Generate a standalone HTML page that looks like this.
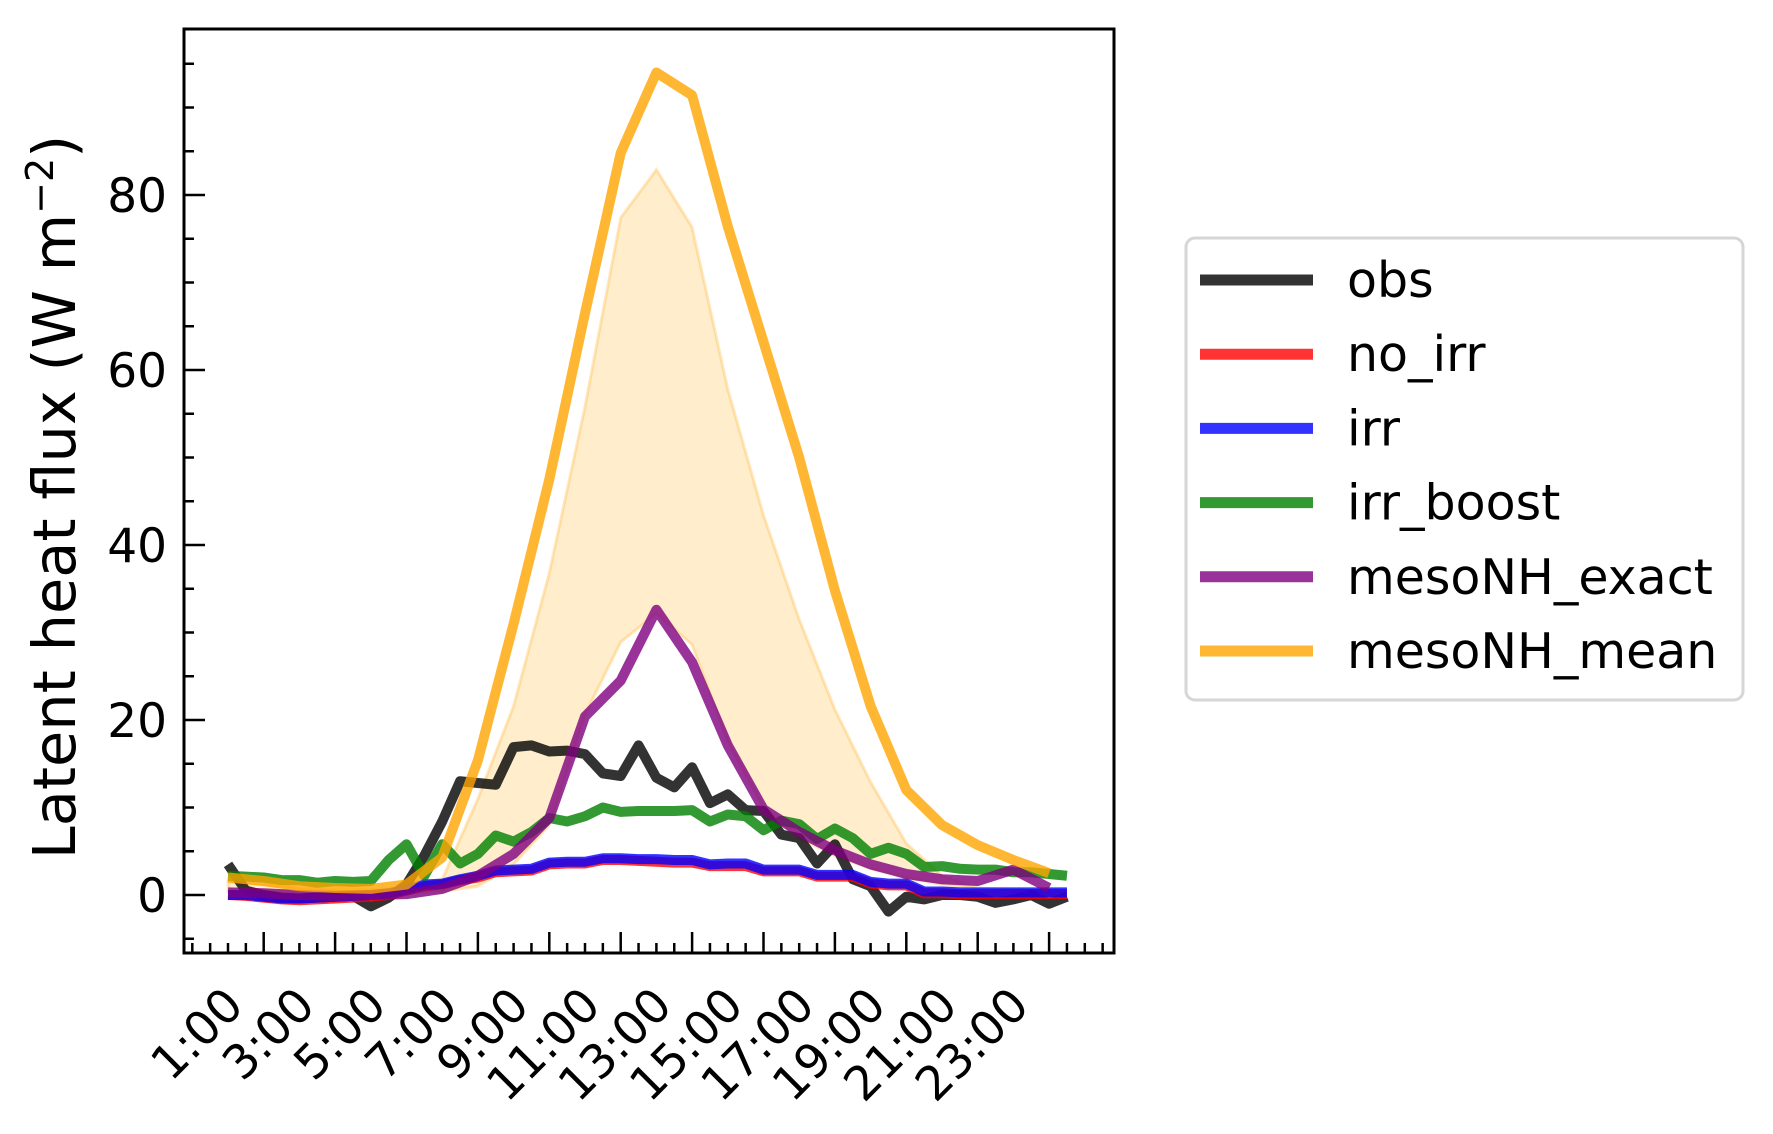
<!DOCTYPE html>
<html><head><meta charset="utf-8"><title>Latent heat flux</title>
<style>html,body{margin:0;padding:0;background:#fff;width:1773px;height:1134px;overflow:hidden}svg text{font-family:"DejaVu Sans","Liberation Sans",sans-serif;fill:#000}</style>
</head><body>
<svg id="chart" width="1773" height="1134" viewBox="0 0 1773 1134" xmlns="http://www.w3.org/2000/svg">
<g id="plot"></g>
<text transform="translate(75,497) rotate(-90)" text-anchor="middle" font-size="59">Latent heat flux (W m<tspan font-size="38" dy="-22">−2</tspan><tspan dy="22">)</tspan></text>
<g>
<rect x="1186" y="238" width="557" height="462" rx="9" fill="#fff" stroke="#d6d6d6" stroke-width="3"/>
<g id="legend-items"></g>
</g>
</svg>
<script>
const hoursHalf = [0,0.5,1,1.5,2,2.5,3,3.5,4,4.5,5,5.5,6,6.5,7,7.5,8,8.5,9,9.5,10,10.5,11,11.5,12,12.5,13,13.5,14,14.5,15,15.5,16,16.5,17,17.5,18,18.5,19,19.5,20,20.5,21,21.5,22,22.5,23,23.5];
const hoursHourly = [0,1,2,3,4,5,6,7,8,9,10,11,12,13,14,15,16,17,18,19,20,21,22,23];
const obs = [3.5,0.5,0,-0.3,-0.4,-0.3,-0.2,-0.1,-1.3,-0.3,1.2,4.5,8.4,13.0,12.8,12.6,16.9,17.1,16.4,16.5,16.1,13.9,13.6,17.1,13.4,12.3,14.6,10.5,11.5,9.7,9.6,6.9,6.5,3.6,5.8,1.8,1.0,-1.9,-0.2,-0.5,0,0,-0.2,-0.9,-0.5,0,-1.0,-0.2];
const noIrr = [0,-0.1,-0.3,-0.5,-0.6,-0.5,-0.4,-0.3,-0.2,0,0.5,1.0,1.2,1.7,2.0,2.6,2.7,2.8,3.5,3.6,3.6,4.0,4.0,3.9,3.8,3.7,3.7,3.3,3.3,3.3,2.7,2.7,2.7,2.1,2.1,2.1,1.3,1.1,1.1,0.2,0.2,0.1,0.1,0.1,0.1,0.1,0.1,0.1];
const irr = [0,0,-0.2,-0.4,-0.4,-0.3,-0.2,-0.1,0,0.2,0.6,1.2,1.3,1.8,2.2,2.8,2.9,3.0,3.7,3.8,3.8,4.2,4.2,4.1,4.1,4.0,4.0,3.5,3.6,3.6,2.9,2.9,2.9,2.3,2.3,2.3,1.5,1.3,1.3,0.4,0.4,0.3,0.3,0.3,0.3,0.3,0.3,0.3];
const irrBoost = [2.2,2.1,2.0,1.7,1.7,1.4,1.6,1.5,1.6,4.0,5.8,2.2,5.8,3.6,4.7,6.8,6.1,7.2,8.8,8.4,9.0,10.0,9.5,9.6,9.6,9.6,9.7,8.4,9.2,9.0,7.4,8.5,8.1,6.4,7.6,6.5,4.7,5.4,4.7,3.2,3.3,3.0,2.9,2.9,2.6,2.6,2.4,2.2];
const mesoExact = [0.3,0.2,0,-0.1,0,0.1,0.7,2.2,4.7,8.8,20.4,24.5,32.6,26.6,17.1,9.8,7.2,5.1,3.5,2.4,1.8,1.6,2.9,0.8];
const mesoMean = [2.0,1.6,1.0,0.8,0.7,1.2,4.3,15.4,31,47.5,66.5,84.8,94,91.4,76.4,63.2,50,34.8,21.6,12,8,5.7,4,2.5];
const bandUpper = [1.5,1.2,0.8,0.6,0.6,0.9,1.8,11,21.6,36.8,55.8,77.4,82.9,76.3,57.8,43.4,31.5,21.2,12.9,5.9,2.2,0.8,0.6,0.5];
const bandLower = [0.4,0.3,0.2,0.1,0.1,0.2,0.4,1.0,3.5,8,20.6,28.9,32.2,28.6,17.5,10,6.5,4.5,3,2,1.2,0.8,0.6,0.4];
const yTicks = [0,20,40,60,80];
const xTickHours = [1,3,5,7,9,11,13,15,17,19,21,23];
const xTickLabels = ["1:00","3:00","5:00","7:00","9:00","11:00","13:00","15:00","17:00","19:00","21:00","23:00"];

const NS = "http://www.w3.org/2000/svg";
const L = 184, R = 1114, T = 29, B = 953;
function xs(h){ return 228 + 35.7*h; }
function ys(v){ return 895 - 8.75*v; }
function mk(tag, attrs, parent){ const e=document.createElementNS(NS,tag); for(const k in attrs) e.setAttribute(k,attrs[k]); parent.appendChild(e); return e; }
const plot = document.getElementById('plot');

const defs = mk('defs',{},plot);
const cp = mk('clipPath',{id:'clip'},defs);
mk('rect',{x:L,y:T,width:R-L,height:B-T},cp);
const inner = mk('g',{'clip-path':'url(#clip)'},plot);

let d = '';
hoursHourly.forEach((h,i)=>{ d += (i?'L':'M')+xs(h)+','+ys(bandUpper[i]); });
for(let i=hoursHourly.length-1;i>=0;i--){ d += 'L'+xs(hoursHourly[i])+','+ys(bandLower[i]); }
const band = mk('path',{d:d+'Z',fill:'#ffa500','fill-opacity':'0.2',stroke:'#ffa500','stroke-opacity':'0.25','stroke-width':'3'},inner);



const series = [
 {name:'obs', t:hoursHalf, v:obs, c:'#000000'},
 {name:'no_irr', t:hoursHalf, v:noIrr, c:'#ff0000'},
 {name:'irr', t:hoursHalf, v:irr, c:'#0000ff'},
 {name:'irr_boost', t:hoursHalf, v:irrBoost, c:'#008000'},
 {name:'mesoNH_exact', t:hoursHourly, v:mesoExact, c:'#800080'},
 {name:'mesoNH_mean', t:hoursHourly, v:mesoMean, c:'#ffa500'}
];
series.forEach(s=>{
  const pts = s.t.map((h,i)=>xs(h)+','+ys(s.v[i])).join(' ');
  const pl = mk('polyline',{points:pts,fill:'none',stroke:s.c,'stroke-opacity':'0.8','stroke-width':'10','stroke-linejoin':'round','stroke-linecap':'butt'},inner);
  
  
});

const frame = mk('rect',{x:L,y:T,width:R-L,height:B-T,fill:'none',stroke:'#000','stroke-width':'3'},plot);



for(let v=-5; v<=95; v+=5){
  const y=ys(v); const major = yTicks.includes(v);
  const tk = mk('line',{x1:L,x2:L+(major?21:10),y1:y,y2:y,stroke:'#000','stroke-width':'2.5'},plot);
  
  
}
yTicks.forEach(v=>{
  const t = mk('text',{x:167,y:ys(v)+17,'text-anchor':'end','font-size':'47'},plot);
  t.textContent = String(v);
  
  
});
for(let h=-1; h<=24.5; h+=0.5){
  const x=xs(h); if(x<L+2||x>R-2) continue;
  const major = xTickHours.includes(h);
  const tk = mk('line',{x1:x,x2:x,y1:B,y2:B-(major?21:10),stroke:'#000','stroke-width':'2.5'},plot);
  
  
}
xTickHours.forEach((h,i)=>{
  const x=xs(h)-18, y=1008;
  const t = mk('text',{x:x,y:y,'text-anchor':'end','font-size':'47',transform:'rotate(-45 '+x+' '+y+')'},plot);
  t.textContent = xTickLabels[i];
  
  
});

const lg = document.getElementById('legend-items');
series.forEach((s,i)=>{
  const y = 280 + i*74.2;
  const ln = mk('line',{x1:1200,x2:1313,y1:y,y2:y,stroke:s.c,'stroke-opacity':'0.8','stroke-width':'11'},lg);
  
  
  const t = mk('text',{x:1347,y:y+17,'font-size':'49'},lg);
  t.textContent = s.name;
  
  
});
</script>
</body></html>
